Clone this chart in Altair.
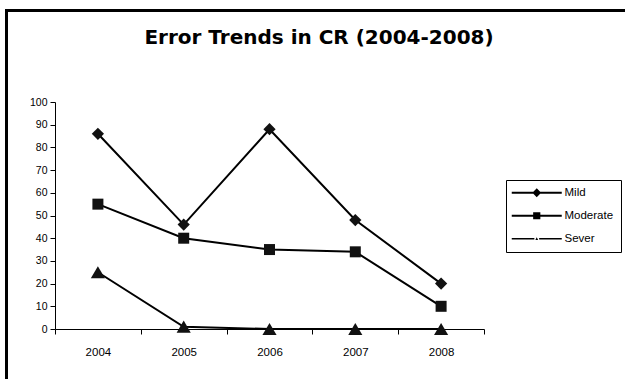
import altair as alt
import pandas as pd

# ---- data ----
years = [2004, 2005, 2006, 2007, 2008]
mild = [86, 46, 88, 48, 20]
moderate = [55, 40, 35, 34, 10]
sever = [25, 1, 0, 0, 0]
series_names = ["Mild", "Moderate", "Sever"]
y_ticks = list(range(0, 101, 10))
title_text = "Error Trends in CR (2004-2008)"

rows = []
for name, vals in zip(series_names, [mild, moderate, sever]):
    for yr, v in zip(years, vals):
        rows.append({"year": yr, "value": v, "series": name})
df = pd.DataFrame(rows)

# category boundaries (ticks) plus category centres (labels)
x_values = [yr - 0.5 for yr in years] + [years[-1] + 0.5] + years

FONT = "Liberation Sans"

x_enc = alt.X(
    "year:Q",
    scale=alt.Scale(domain=[years[0] - 0.5, years[-1] + 0.5], nice=False, zero=False),
    axis=alt.Axis(
        values=x_values,
        title=None,
        grid=False,
        format=".1f",
        labelExpr="floor(datum.value) == datum.value ? '' + datum.value : ''",
        labelOverlap=False,
        labelFlush=False,
        tickSize=5,
        tickOpacity={"condition": {"test": "floor(datum.value) == datum.value", "value": 0}, "value": 1},
        labelPadding=12,
        labelFontSize=11.5,
    ),
)
y_enc = alt.Y(
    "value:Q",
    scale=alt.Scale(domain=[0, 100], nice=False),
    axis=alt.Axis(
        values=y_ticks,
        title=None,
        grid=False,
        tickSize=5,
        labelPadding=3,
        labelFontSize=10.5,
    ),
)

lines = alt.Chart(df).mark_line(color="black", strokeWidth=2).encode(
    x=x_enc, y=y_enc, detail="series:N"
)

marker_shapes = ["diamond", "square", "triangle-up"]
marker_sizes = [150, 121, 200]
point_layers = [
    alt.Chart(df)
    .transform_filter(alt.datum.series == name)
    .mark_point(filled=True, color="#111111", opacity=1, shape=shp, size=sz)
    .encode(x=x_enc, y=y_enc)
    for name, shp, sz in zip(series_names, marker_shapes, marker_sizes)
]

# legend symbols: line segment with a marker in the middle (as filled paths)
legend_paths = [
    "M-6.25,-0.25H6.25V0.25H-6.25Z M0,-1.1L1.1,0L0,1.1L-1.1,0Z",
    "M-6.25,-0.25H6.25V0.25H-6.25Z M-0.9,-0.9H0.9V0.9H-0.9Z",
    "M-6.25,-0.2H-0.6V0.2H-6.25Z M0.6,-0.2H6.25V0.2H0.6Z M0,-0.35L0.35,0.3H-0.35Z",
]

legend_layer = (
    alt.Chart(df)
    .transform_filter("false")
    .mark_point(filled=True, color="black", opacity=1)
    .encode(
        x=x_enc,
        y=y_enc,
        shape=alt.Shape(
            "series:N",
            scale=alt.Scale(domain=series_names, range=legend_paths),
            legend=alt.Legend(
                orient="none",
                legendX=451,
                legendY=78,
                title=None,
                padding=7,
                strokeColor="black",
                fillColor="white",
                symbolSize=64,
                symbolOffset=18,
                labelOffset=22,
                rowPadding=10,
                labelFont=FONT,
                labelFontSize=11.5,
                labelColor="black",
                symbolFillColor="black",
                symbolStrokeWidth=0,
            ),
        ),
    )
)

frame_data = alt.Data(values=[{"k": 0}])
frame_left = alt.Chart(frame_data).mark_rule(color="black", strokeWidth=3).encode(
    x=alt.value(-48.5), y=alt.value(-93), y2=alt.value(400)
)
frame_top = alt.Chart(frame_data).mark_rule(color="black", strokeWidth=3).encode(
    x=alt.value(-50), x2=alt.value(700), y=alt.value(-91.5)
)

chart = (
    alt.layer(frame_left, frame_top, lines, *point_layers, legend_layer)
    .properties(
        width=429,
        height=227,
        autosize=alt.AutoSizeParams(type="none"),
        padding={"left": 55, "top": 102, "right": 141, "bottom": 50},
        background="white",
        title=alt.TitleParams(
            title_text,
            font="DejaVu Sans",
            fontSize=20,
            fontWeight="bold",
            color="black",
            anchor="middle",
            dx=49.5,
            offset=-56,
            baseline="alphabetic",
        ),
    )
    .configure_view(stroke=None)
    .configure_axis(
        labelFont=FONT,
        labelColor="black",
        tickColor="black",
        domainColor="black",
        domainWidth=1,
        tickWidth=1,
    )
)

chart.save("out.html", embed_options={"renderer": "svg", "actions": False})
